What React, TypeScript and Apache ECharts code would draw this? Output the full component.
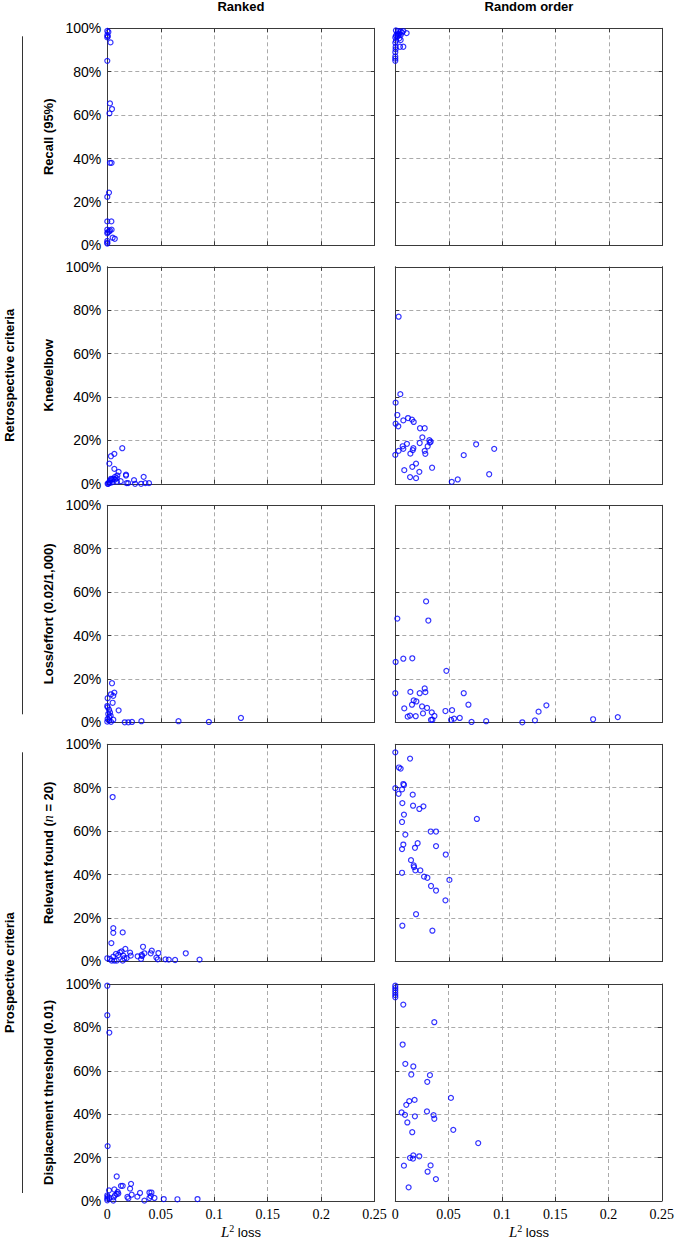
import React, { useEffect, useRef } from "react";
import * as echarts from "echarts";

// ---- data (x = L2 loss, y = percent) ----
const columnTitles = ["Ranked", "Random order"];
const rowLabels = [
  "{b|Recall (95%)}",
  "{b|Knee/elbow}",
  "{b|Loss/effort (0.02/1,000)}",
  "{b|Relevant found (}{i|n}{b| = 20)}",
  "{b|Displacement threshold (0.01)}",
];
const groupLabels = ["Retrospective criteria", "Prospective criteria"];
const xTicks = [0, 0.05, 0.1, 0.15, 0.2, 0.25];
const yTicks = [0, 20, 40, 60, 80, 100];

const rankedRecall = [
  [0, 98.8], [0.001, 98.3], [0, 96.8], [0.0005, 96.3], [0, 95.8], [0.003, 93.5], [0, 85],
  [0.0025, 65.4], [0.0044, 62.8], [0.002, 60.8], [0.0025, 38], [0.004, 38], [0.0016, 24.3],
  [0, 22.3], [0, 11], [0.0038, 11], [0, 7.2], [0.0025, 6.8], [0.004, 7.2], [0.0003, 6],
  [0.0016, 6.3], [0, 5.5], [0.005, 3.5], [0.007, 3], [0, 2], [0, 1.2], [0, 0.8],
];
const randomRecall = [
  [0.0006, 99], [0.0028, 98.7], [0.005, 98.5], [0.0075, 98.7], [0.0106, 97.8], [0.0019, 97.6],
  [0.0038, 97.6], [0.0063, 98], [0.0006, 96.6], [0.0028, 96.9], [0.005, 96.9], [0, 95.8],
  [0.0019, 96.2], [0.0038, 95.4], [0.0006, 94.3], [0.005, 94.6], [0, 93.3], [0.0044, 91.5],
  [0.0075, 91.5], [0.0003, 91.4], [0.0003, 90.3], [0, 89], [0, 87], [0, 86], [0, 85],
];
const rankedKnee = [
  [0.014, 16.4], [0.0066, 13.8], [0.0034, 12.7], [0.0019, 9.3], [0.0066, 6.9], [0.0106, 5.5],
  [0.0094, 3.8], [0.0175, 4.2], [0.0175, 3.8], [0.025, 1.7], [0.034, 3.2], [0.0125, 1.2],
  [0.018, 0.3], [0.0195, 0.3], [0.026, 0], [0.0316, 0], [0.0356, 0.3], [0.039, 0.3],
  [0.0009, 0], [0.0019, 0.8], [0.0025, 1.5], [0.0041, 2], [0.0056, 2.3], [0.0072, 2],
  [0.0088, 2.6], [0.0031, 0.5], [0.0003, 0], [0.005, 0.8], [0.0072, 3.2], [0.0013, 0.3],
  [0.0035, 2.3], [0.009, 1],
];
const randomKnee = [
  [0.0031, 77], [0.0047, 41.3], [0.0003, 37.4], [0.0019, 31.7], [0.0075, 29.2], [0.0119, 30.3],
  [0.0156, 29.6], [0.0172, 28.5], [0.0003, 27.7], [0.0028, 26.5], [0.0231, 25.6], [0.0275, 25.6],
  [0.0253, 21.4], [0.0319, 20.1], [0.0331, 19.4], [0.0322, 19], [0.0303, 17.3], [0.0756, 18.2],
  [0.0925, 16.1], [0.0109, 18.4], [0.0069, 17.3], [0.0075, 16.1], [0.0228, 18.8], [0.0031, 15.2],
  [0, 13.3], [0.0169, 16.4], [0.0163, 15.5], [0.0141, 13.9], [0.0275, 15.2], [0.0281, 13.8],
  [0.064, 13.2], [0.0194, 9.3], [0.0159, 7.8], [0.0084, 6.3], [0.0225, 5.5], [0.0344, 7.4],
  [0.0138, 3.1], [0.0194, 2.6], [0.0878, 4.4], [0.0528, 0.9], [0.0584, 2],
];
const rankedLoss = [
  [0.0044, 18], [0.0066, 13.7], [0.0034, 12.9], [0.0056, 12.2], [0.0003, 11.1], [0.005, 9],
  [0, 7.5], [0.0003, 6.9], [0.0016, 5.8], [0.0106, 5.5], [0.0025, 4.6], [0.0009, 3.8],
  [0.0031, 3], [0.0019, 2.3], [0.0003, 1.5], [0.0016, 0.8], [0.0056, 1.2], [0, 0.3],
  [0.0035, 0.2], [0.0163, 0], [0.0197, 0], [0.0231, 0.15], [0.0319, 0.5], [0.0666, 0.5],
  [0.095, 0.15], [0.125, 2],
];
const randomLoss = [
  [0.0288, 55.7], [0.0019, 47.8], [0.0309, 46.9], [0.0003, 27.8], [0.0075, 29.3], [0.0159, 29.5],
  [0.0478, 23.7], [0, 13.4], [0.0141, 14], [0.0228, 13.4], [0.0275, 15.6], [0.0281, 13.9],
  [0.064, 13.4], [0.0172, 10.1], [0.0197, 9.6], [0.0156, 8.1], [0.0684, 8.1], [0.025, 7.3],
  [0.0297, 6.6], [0.0084, 6.4], [0.0341, 4.6], [0.0259, 4.1], [0.0366, 2.9], [0.0116, 2.6],
  [0.0138, 3.1], [0.0191, 2.8], [0.0469, 5.2], [0.0531, 5.6], [0.0603, 2], [0.055, 1.7],
  [0.0522, 1.1], [0.0334, 1.1], [0.0347, 1.2], [0.0713, 0.15], [0.085, 0.5], [0.1188, 0],
  [0.1306, 0.9], [0.134, 4.9], [0.1413, 7.8], [0.185, 1.4], [0.2081, 2.4],
];
const rankedRelevant = [
  [0.005, 75.7], [0.0056, 15.3], [0.0056, 13.1], [0.0144, 13.3], [0.0038, 8.4], [0, 1.4],
  [0.0025, 1.1], [0.0041, 0.3], [0.0056, 2.1], [0.0066, 0.3], [0.0081, 3.4], [0.0088, 0.3],
  [0.0103, 2.9], [0.0119, 4.1], [0.0134, 4.6], [0.0169, 5.7], [0.015, 2.6], [0.0159, 1.4],
  [0.0144, 0.3], [0.0181, 1.5], [0.0213, 4], [0.0219, 2.6], [0.0284, 2.3], [0.0316, 1.1],
  [0.0322, 2.9], [0.0334, 6.7], [0.0347, 3.7], [0.0325, 2.4], [0.0406, 3.7], [0.0416, 4.9],
  [0.0478, 3.8], [0.0459, 1.7], [0.0472, 0.9], [0.0544, 0.9], [0.0575, 0.8], [0.0634, 0.6],
  [0.0734, 3.7], [0.0863, 0.8],
];
const randomRelevant = [
  [0, 96.3], [0.0138, 93.4], [0.0034, 89.3], [0.005, 88.8], [0, 79.8], [0.0075, 81.7],
  [0.0081, 81.3], [0.0063, 79.2], [0.0031, 77.2], [0.0163, 76.8], [0.0066, 72.9], [0.0166, 71.7],
  [0.0225, 70.2], [0.0263, 71.4], [0.0081, 67.6], [0.0763, 65.6], [0.0063, 64.2], [0.0331, 59.8],
  [0.0381, 59.8], [0.0094, 58.4], [0.0209, 54.4], [0.0075, 53.8], [0.0381, 53.1], [0.0063, 51.7],
  [0.0184, 52.3], [0.0472, 49.2], [0.0147, 46.6], [0.0172, 44.2], [0.0175, 43.4], [0.0188, 41.9],
  [0.0234, 41.9], [0.0063, 40.8], [0.0269, 39], [0.03, 38.5], [0.0506, 37.5], [0.0334, 34.7],
  [0.0381, 32.6], [0.0469, 28.1], [0.0194, 21.7], [0.0066, 16.4], [0.0347, 14.1],
];
const rankedDisplacement = [
  [0, 99.2], [0, 85.6], [0.0019, 77.6], [0.0003, 25.3], [0.0088, 11.3], [0.0016, 4.9],
  [0.0066, 5.3], [0.0128, 7], [0.0144, 7], [0.0222, 7.9], [0.0213, 5.7], [0.0097, 4.2],
  [0.0088, 3.2], [0.0103, 3.4], [0, 2.6], [0.0003, 1.9], [0, 1.1], [0, 0.3], [0.0019, 1.4],
  [0.0072, 2.6], [0.0059, 1.7], [0.0056, 0.2], [0.0188, 1.9], [0.0197, 1.2], [0.0228, 2.9],
  [0.0281, 2], [0.0306, 3.7], [0.0347, 0.2], [0.0394, 3.9], [0.0413, 3.9], [0.0394, 1.4],
  [0.0406, 2.3], [0.0441, 1.4], [0.0528, 0.9], [0.0656, 0.8], [0.0844, 0.9],
];
const randomDisplacement = [
  [0, 99.2], [0, 98.2], [0, 97.1], [0, 96], [0, 94.9], [0, 93.9], [0.0075, 90.5], [0.0366, 82.4],
  [0.0069, 72.1], [0.0094, 63.2], [0.0169, 62], [0.015, 58.3], [0.0325, 58], [0.03, 54.9],
  [0.0522, 47.5], [0.0131, 46], [0.0181, 46.6], [0.0103, 44.3], [0.0059, 40.8], [0.0091, 39.7],
  [0.0297, 41.3], [0.0359, 39.6], [0.0366, 37.9], [0.0184, 39], [0.0113, 36.2], [0.0544, 32.8],
  [0.0159, 31.7], [0.0778, 26.7], [0.0138, 19.9], [0.0169, 21], [0.0166, 19.5], [0.0225, 20.6],
  [0.0081, 16.3], [0.0331, 16.4], [0.0303, 13.5], [0.0381, 10.1], [0.0125, 6.3],
];

const panels = [
  [rankedRecall, randomRecall],
  [rankedKnee, randomKnee],
  [rankedLoss, randomLoss],
  [rankedRelevant, randomRelevant],
  [rankedDisplacement, randomDisplacement],
];

// ---- layout ----
const W = 677;
const H = 1240;
const colLeft = [107.3, 395.3];
const colWidth = 267.3;
const rowTop = [28.3, 266.8, 505.3, 744.3, 984];
const rowHeight = 217;

const SANS = "'Liberation Sans', Arial, sans-serif";
const SERIF = "'Liberation Serif', 'Times New Roman', serif";

export default function App() {
  const ref = useRef<HTMLDivElement>(null);
  useEffect(() => {
    if (!ref.current) return;
    const chart = echarts.init(ref.current, undefined, { renderer: "svg" });
    const grids: any[] = [];
    const xAxes: any[] = [];
    const yAxes: any[] = [];
    const series: any[] = [];
    const tickColor = "#3a3a3a";
    const gridColor = "#aaaaaa";
    panels.forEach((row, r) => {
      row.forEach((data, c) => {
        const gi = grids.length;
        grids.push({
          left: colLeft[c],
          top: rowTop[r],
          width: colWidth,
          height: rowHeight,
          containLabel: false,
        });
        const common = {
          gridIndex: gi,
          type: "value",
          axisLine: { show: true, onZero: false, lineStyle: { color: tickColor, width: 1 } },
          axisTick: { show: true, inside: true, length: 4, lineStyle: { color: tickColor } },
        };
        xAxes.push({
          ...common,
          position: "bottom",
          min: xTicks[0],
          max: xTicks[xTicks.length - 1],
          interval: xTicks[1] - xTicks[0],
          axisLabel: {
            show: r === panels.length - 1,
            formatter: (v: number) => String(+v.toFixed(2)),
            fontFamily: SERIF,
            fontSize: 14,
            color: "#000",
            margin: 6,
          },
          splitLine: {
            show: true,
            showMinLine: false,
            showMaxLine: false,
            lineStyle: { type: [4, 3], color: gridColor, width: 1 },
          },
        });
        xAxes.push({
          ...common,
          position: "top",
          min: xTicks[0],
          max: xTicks[xTicks.length - 1],
          interval: xTicks[1] - xTicks[0],
          axisLabel: { show: false },
          splitLine: { show: false },
        });
        yAxes.push({
          ...common,
          position: "left",
          min: yTicks[0],
          max: yTicks[yTicks.length - 1],
          interval: yTicks[1] - yTicks[0],
          axisLabel: {
            show: c === 0,
            formatter: "{value}%",
            fontFamily: SANS,
            fontSize: 14,
            color: "#000",
            margin: 6,
          },
          splitLine: {
            show: true,
            showMinLine: false,
            showMaxLine: false,
            lineStyle: { type: [4, 3], color: gridColor, width: 1 },
          },
        });
        yAxes.push({
          ...common,
          position: "right",
          min: yTicks[0],
          max: yTicks[yTicks.length - 1],
          interval: yTicks[1] - yTicks[0],
          axisLabel: { show: false },
          splitLine: { show: false },
        });
        series.push({
          type: "scatter",
          xAxisIndex: gi * 2,
          yAxisIndex: gi * 2,
          data,
          symbol: "circle",
          symbolSize: 5,
          clip: false,
          itemStyle: { color: "rgba(0,0,0,0)", borderColor: "#0000ff", borderWidth: 1.2 },
          emphasis: { disabled: true },
          z: 5,
        });
      });
    });

    const graphic: any[] = [];
    columnTitles.forEach((t, c) => {
      graphic.push({
        type: "text",
        x: colLeft[c] + colWidth / 2,
        y: 6,
        style: { text: t, font: `bold 13px ${SANS}`, fill: "#000", align: "center", verticalAlign: "middle" },
      });
      graphic.push({
        type: "text",
        x: colLeft[c] + colWidth / 2,
        y: 1232,
        style: {
          text: "{l|L}{s|2}{t| loss}",
          align: "center",
          verticalAlign: "middle",
          rich: {
            l: { fontFamily: SERIF, fontStyle: "italic", fontSize: 15, fill: "#000", color: "#000" },
            s: { fontFamily: SERIF, fontSize: 10, padding: [0, 0, 8, 0], fill: "#000", color: "#000" },
            t: { fontFamily: SANS, fontSize: 13, fill: "#000", color: "#000" },
          },
        },
      });
    });
    rowLabels.forEach((t, r) => {
      graphic.push({
        type: "text",
        x: 48,
        y: rowTop[r] + rowHeight / 2,
        rotation: Math.PI / 2,
        style: {
          text: t,
          align: "center",
          verticalAlign: "middle",
          rich: {
            b: { fontFamily: SANS, fontWeight: "bold", fontSize: 13, fill: "#000", color: "#000" },
            i: { fontFamily: SERIF, fontStyle: "italic", fontSize: 14, fill: "#000", color: "#000" },
          },
        },
      });
    });
    const groups = [
      { label: groupLabels[0], top: rowTop[0], bottom: rowTop[2] + rowHeight },
      { label: groupLabels[1], top: rowTop[3], bottom: rowTop[4] + rowHeight },
    ];
    groups.forEach((g) => {
      graphic.push({
        type: "text",
        x: 9,
        y: (g.top + g.bottom) / 2,
        rotation: Math.PI / 2,
        style: { text: g.label, font: `bold 13px ${SANS}`, fill: "#000", align: "center", verticalAlign: "middle" },
      });
      graphic.push({
        type: "line",
        shape: { x1: 22.5, y1: g.top + 8, x2: 22.5, y2: g.bottom - 8 },
        style: { stroke: "#333", lineWidth: 1 },
      });
    });

    chart.setOption({
      animation: false,
      backgroundColor: "#fff",
      grid: grids,
      xAxis: xAxes,
      yAxis: yAxes,
      series,
      graphic,
    });
    return () => chart.dispose();
  }, []);
  return (
    <div
      ref={ref}
      style={{ position: "absolute", left: 0, top: 0, width: W, height: H }}
    />
  );
}
